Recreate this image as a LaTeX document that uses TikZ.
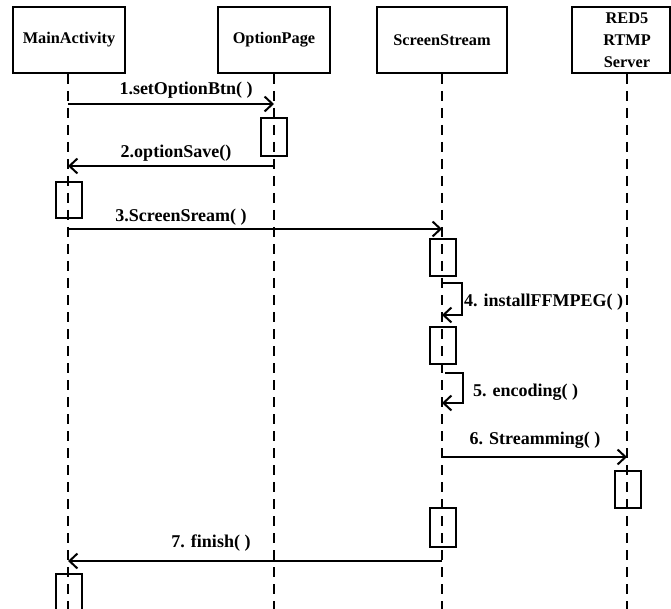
\documentclass[tikz,border=0pt]{standalone}
\usepackage{fontspec}
\setmainfont{Liberation Serif}
\usetikzlibrary{arrows.meta}
\begin{document}
\begin{tikzpicture}[x=1pt,y=-1pt,
  obj/.style={draw, line width=2pt, minimum height=66pt, inner sep=0pt,
    font=\fontsize{16.3}{21}\selectfont\bfseries, align=center},
  objtext/.style={inner sep=0pt, font=\fontsize{16.3}{22}\selectfont\bfseries, align=center},
  act/.style={draw, line width=2pt, minimum width=26pt, inner sep=0pt},
  life/.style={line width=2pt, dash pattern=on 10pt off 7pt},
  msg/.style={line width=2pt, -{Straight Barb[length=8pt,width=15pt,line width=2pt]}},
  lbl/.style={font=\fontsize{18}{21}\selectfont\bfseries, inner sep=0pt}]
\useasboundingbox (0,0) rectangle (671,609);

% objects
\node[obj, minimum width=112pt] (ma) at (69,40) {MainActivity};
\node[obj, minimum width=112pt] (op) at (274,40) {OptionPage};
\node[obj, minimum width=130pt] (ss) at (442,40) {ScreenStream};
\node[obj, minimum width=98pt] (rs) at (621,40) {};
\node[objtext] (rst) at (627,40) {RED5\\RTMP\\Server};

% lifeline ends
\coordinate (mab) at (68,615);
\coordinate (opb) at (274,615);
\coordinate (ssb) at (442,615);
\coordinate (rsb) at (627,615);
\draw[life] (ma.south -| mab) -- (mab);
\draw[life] (op.south) -- (opb);
\draw[life] (ss.south) -- (ssb);
\draw[life] (rsb |- rs.south) -- (rsb);

% activations
\node[act, minimum height=38pt] (opa1) at (274,137) {};
\node[act, minimum height=36pt] (maa1) at (69,200) {};
\node[act, minimum height=37pt] (ssa1) at (442.5,257.5) {};
\node[act, minimum height=37pt] (ssa2) at (442.5,345.5) {};
\node[act, minimum height=37pt] (rsa1) at (627.5,489.5) {};
\node[act, minimum height=39pt] (ssa3) at (442.5,527.5) {};
\node[act, minimum height=46pt] (maa2) at (69,597) {};

% message points
\coordinate (m1s) at (68,104);  \coordinate (m1e) at (274,104);
\coordinate (m2s) at (274,166); \coordinate (m2e) at (68,166);
\coordinate (m3s) at (68,229);  \coordinate (m3e) at (442,229);
\coordinate (m4s) at (442,283); \coordinate (m4e) at (442,315);
\coordinate (m5s) at (445,373); \coordinate (m5e) at (442,403);
\coordinate (m6s) at (442,457); \coordinate (m6e) at (627,457);
\coordinate (m7s) at (442,561); \coordinate (m7e) at (68,561);

\draw[msg] (m1s) -- (m1e);
\draw[msg] (m2s) -- (m2e);
\draw[msg] (m3s) -- (m3e);
\draw[msg] (m4s) -- ++(20,0) |- (m4e);
\draw[msg] (m5s) -- ++(18,0) |- (m5e);
\draw[msg] (m6s) -- (m6e);
\draw[msg] (m7s) -- (m7e);

% labels
\node[lbl] (l1) at (186,90) {1.setOptionBtn( )};
\node[lbl] (l2) at (176,153) {2.optionSave()};
\node[lbl] (l3) at (181,217) {3.ScreenSream( )};
\node[lbl, anchor=west] (l4) at (464,302) {4. installFFMPEG( )};
\node[lbl, anchor=west] (l5) at (473,392) {5. encoding( )};
\node[lbl] (l6) at (535,440) {6. Streamming( )};
\node[lbl] (l7) at (211,543) {7. finish( )};
\end{tikzpicture}
\end{document}
